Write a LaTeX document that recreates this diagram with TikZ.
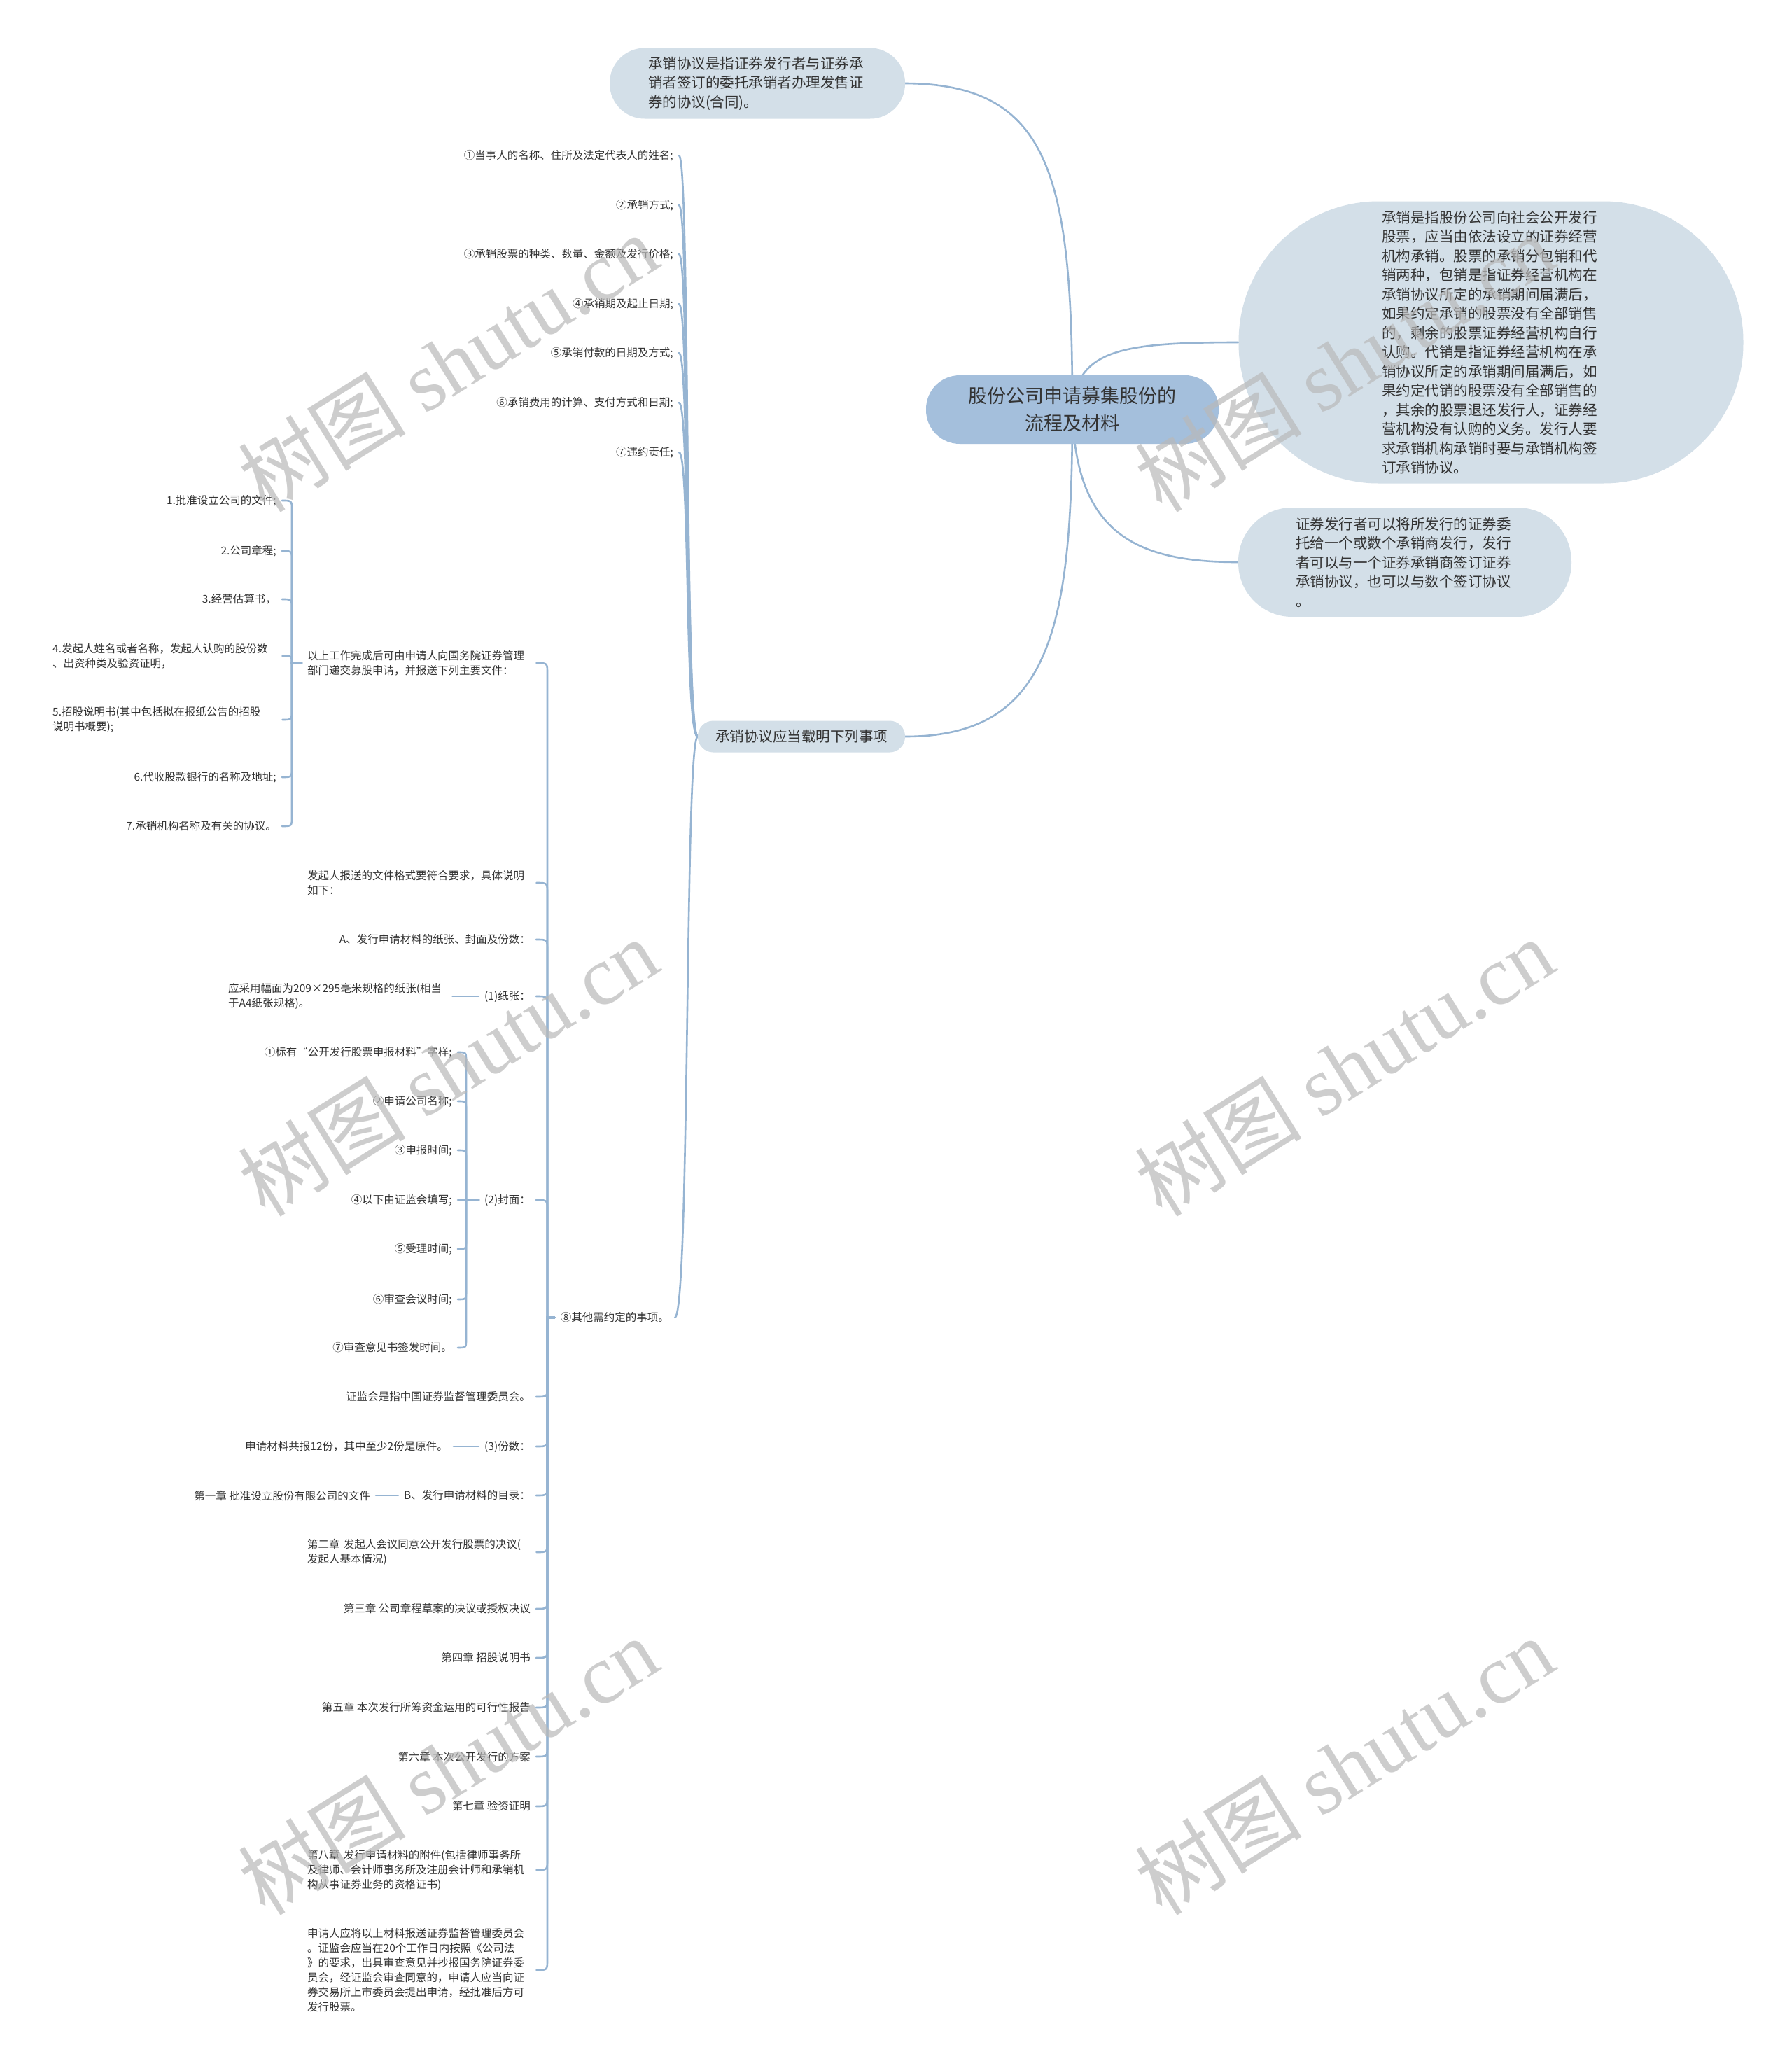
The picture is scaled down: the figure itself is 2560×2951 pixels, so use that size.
\documentclass[tikz,border=0pt]{standalone}
\usepackage{fontspec}
\setmainfont{Noto Sans CJK SC}
\newfontfamily\wmlatin{Liberation Serif}
\usetikzlibrary{backgrounds}
\definecolor{linec}{RGB}{150,180,210}
\definecolor{bubblec}{RGB}{211,223,232}
\definecolor{rootc}{RGB}{164,191,220}
\definecolor{txtc}{RGB}{51,51,51}
\definecolor{wmc}{RGB}{185,185,185}
\tikzset{
  conn/.style={draw=linec, line width=2.6pt, line cap=round},
  leaf/.style={font=\fontsize{15.5pt}{21pt}\selectfont, text=txtc, inner xsep=8pt, inner ysep=1pt},
  leafR/.style={leaf, anchor=east},
  leafL/.style={leaf, anchor=west, align=left, text width=#1},
  bubble/.style={fill=bubblec, text=txtc, font=\fontsize{20.5pt}{27.5pt}\selectfont},
  rootnode/.style={fill=rootc, text=txtc, font=\fontsize{27pt}{39pt}\selectfont, align=center},
  wm/.style={text=wmc, opacity=0.7, rotate=32, font=\fontsize{120pt}{125pt}\selectfont}
}
\begin{document}
\begin{tikzpicture}[x=1pt,y=-1pt]
\useasboundingbox (0,0) rectangle (2560,2951);

% root and first level
\node[rootnode, minimum width=418pt, minimum height=98pt, rounded corners=48pt] (root) at (1532,585) {股份公司申请募集股份的\\流程及材料};
\node[bubble, minimum width=422pt, minimum height=101pt, rounded corners=50pt, text width=312pt, align=left] (topb) at (1082,119)
  {承销协议是指证券发行者与证券承\\销者签订的委托承销者办理发售证\\券的协议(合同)。};
\node[bubble, minimum width=721pt, minimum height=403pt, rounded corners=200pt, text width=312pt, align=left] (bigb) at (2130,489)
  {承销是指股份公司向社会公开发行\\股票，应当由依法设立的证券经营\\机构承销。股票的承销分包销和代\\销两种，包销是指证券经营机构在\\承销协议所定的承销期间届满后，\\如果约定承销的股票没有全部销售\\的，剩余的股票证券经营机构自行\\认购。代销是指证券经营机构在承\\销协议所定的承销期间届满后，如\\果约定代销的股票没有全部销售的\\，其余的股票退还发行人，证券经\\营机构没有认购的义务。发行人要\\求承销机构承销时要与承销机构签\\订承销协议。};
\node[bubble, minimum width=476pt, minimum height=156pt, rounded corners=77pt, text width=312pt, align=left] (brb) at (2007,803)
  {证券发行者可以将所发行的证券委\\托给一个或数个承销商发行，发行\\者可以与一个证券承销商签订证券\\承销协议，也可以与数个签订协议\\。};
\node[bubble, minimum width=296pt, minimum height=45pt, rounded corners=22pt] (n2) at (1145,1052) {承销协议应当载明下列事项};

% items of n2
\node[leafR] (i1) at (970,222) {①当事人的名称、住所及法定代表人的姓名;};
\node[leafR] (i2) at (970,293) {②承销方式;};
\node[leafR] (i3) at (970,363) {③承销股票的种类、数量、金额及发行价格;};
\node[leafR] (i4) at (970,434) {④承销期及起止日期;};
\node[leafR] (i5) at (970,504) {⑤承销付款的日期及方式;};
\node[leafR] (i6) at (970,575) {⑥承销费用的计算、支付方式和日期;};
\node[leafR] (i7) at (970,646) {⑦违约责任;};
\node[leafR] (eight) at (964,1882) {⑧其他需约定的事项。};

% children of eight
\node[leafL=319pt] (docs) at (431,947) {以上工作完成后可由申请人向国务院证券管理\\部门递交募股申请，并报送下列主要文件：};
\node[leafL=319pt] (fmt) at (431,1261) {发起人报送的文件格式要符合要求，具体说明\\如下：};
\node[leafR] (pa) at (766,1342) {A、发行申请材料的纸张、封面及份数：};
\node[leafR] (paper) at (766,1423) {(1)纸张：};
\node[leafR] (cover) at (766,1714) {(2)封面：};
\node[leafR] (csrc) at (766,1995) {证监会是指中国证券监督管理委员会。};
\node[leafR] (copies) at (766,2066) {(3)份数：};
\node[leafR] (toc) at (766,2136) {B、发行申请材料的目录：};
\node[leafL=319pt] (ch2) at (431,2217) {第二章 发起人会议同意公开发行股票的决议(\\发起人基本情况)};
\node[leafR] (ch3) at (766,2298) {第三章 公司章程草案的决议或授权决议};
\node[leafR] (ch4) at (766,2368) {第四章 招股说明书};
\node[leafR] (ch5) at (766,2439) {第五章 本次发行所筹资金运用的可行性报告};
\node[leafR] (ch6) at (766,2509) {第六章 本次公开发行的方案};
\node[leafR] (ch7) at (766,2580) {第七章 验资证明};
\node[leafL=319pt] (ch8) at (431,2671) {第八章 发行申请材料的附件(包括律师事务所\\及律师、会计师事务所及注册会计师和承销机\\构从事证券业务的资格证书)};
\node[leafL=319pt] (final) at (431,2814) {申请人应将以上材料报送证券监督管理委员会\\。证监会应当在20个工作日内按照《公司法\\》的要求，出具审查意见并抄报国务院证券委\\员会，经证监会审查同意的，申请人应当向证\\券交易所上市委员会提出申请，经批准后方可\\发行股票。};

% children of docs
\node[leafR] (d1) at (403,715) {1.批准设立公司的文件;};
\node[leafR] (d2) at (403,787) {2.公司章程;};
\node[leafR] (d3) at (403,856) {3.经营估算书，};
\node[leafL=320pt] (d4) at (67,937) {4.发起人姓名或者名称，发起人认购的股份数\\、出资种类及验资证明，};
\node[leafL=320pt] (d5) at (67,1028) {5.招股说明书(其中包括拟在报纸公告的招股\\说明书概要);};
\node[leafR] (d6) at (403,1110) {6.代收股款银行的名称及地址;};
\node[leafR] (d7) at (403,1180) {7.承销机构名称及有关的协议。};

% child of paper
\node[leafL=312pt] (paperc) at (318,1423) {应采用幅面为209×295毫米规格的纸张(相当\\于A4纸张规格)。};

% children of cover
\node[leafR] (c1) at (654,1503) {①标有“公开发行股票申报材料”字样;};
\node[leafR] (c2) at (654,1573) {②申请公司名称;};
\node[leafR] (c3) at (654,1643) {③申报时间;};
\node[leafR] (c4) at (654,1714) {④以下由证监会填写;};
\node[leafR] (c5) at (654,1784) {⑤受理时间;};
\node[leafR] (c6) at (654,1856) {⑥审查会议时间;};
\node[leafR] (c7) at (654,1925) {⑦审查意见书签发时间。};

% children of copies / toc
\node[leafR] (copiesc) at (648,2066) {申请材料共报12份，其中至少2份是原件。};
\node[leafR] (tocc) at (537,2136) {第一章 批准设立股份有限公司的文件};

\begin{pgfonlayer}{background}
\fill[white] (0,0) rectangle (2560,2951);
% root connectors
\draw[conn] (root.center) .. controls (1532,250) and (1500,120) .. (topb.east);
\draw[conn] (root.center) .. controls (1532,900) and (1500,1052) .. (n2.east);
\draw[conn] (root.center) .. controls (1538,500) and (1600,489) .. (bigb.west);
\draw[conn] (root.center) .. controls (1536,760) and (1620,803) .. (brb.west);
% n2 connectors
\draw[conn] (n2.west) .. controls (978,1052) and (986,222) .. (i1.east);
\draw[conn] (n2.west) .. controls (978,1052) and (986,293) .. (i2.east);
\draw[conn] (n2.west) .. controls (978,1052) and (986,363) .. (i3.east);
\draw[conn] (n2.west) .. controls (978,1052) and (986,434) .. (i4.east);
\draw[conn] (n2.west) .. controls (978,1052) and (986,504) .. (i5.east);
\draw[conn] (n2.west) .. controls (978,1052) and (986,575) .. (i6.east);
\draw[conn] (n2.west) .. controls (978,1052) and (986,646) .. (i7.east);
\draw[conn] (n2.west) .. controls (978,1052) and (986,1882) .. (eight.east);
% eight connectors
\draw[conn] (eight.west) -- (782,1882) -- (782,962) .. controls (782,947) .. (docs.east);
\draw[conn] (eight.west) -- (782,1882) -- (782,1276) .. controls (782,1261) .. (fmt.east);
\draw[conn] (eight.west) -- (782,1882) -- (782,1357) .. controls (782,1342) .. (pa.east);
\draw[conn] (eight.west) -- (782,1882) -- (782,1438) .. controls (782,1423) .. (paper.east);
\draw[conn] (eight.west) -- (782,1882) -- (782,1729) .. controls (782,1714) .. (cover.east);
\draw[conn] (eight.west) -- (782,1882) -- (782,1980) .. controls (782,1995) .. (csrc.east);
\draw[conn] (eight.west) -- (782,1882) -- (782,2051) .. controls (782,2066) .. (copies.east);
\draw[conn] (eight.west) -- (782,1882) -- (782,2121) .. controls (782,2136) .. (toc.east);
\draw[conn] (eight.west) -- (782,1882) -- (782,2202) .. controls (782,2217) .. (ch2.east);
\draw[conn] (eight.west) -- (782,1882) -- (782,2283) .. controls (782,2298) .. (ch3.east);
\draw[conn] (eight.west) -- (782,1882) -- (782,2353) .. controls (782,2368) .. (ch4.east);
\draw[conn] (eight.west) -- (782,1882) -- (782,2424) .. controls (782,2439) .. (ch5.east);
\draw[conn] (eight.west) -- (782,1882) -- (782,2494) .. controls (782,2509) .. (ch6.east);
\draw[conn] (eight.west) -- (782,1882) -- (782,2565) .. controls (782,2580) .. (ch7.east);
\draw[conn] (eight.west) -- (782,1882) -- (782,2656) .. controls (782,2671) .. (ch8.east);
\draw[conn] (eight.west) -- (782,1882) -- (782,2799) .. controls (782,2814) .. (final.east);
% docs connectors
\draw[conn] (docs.west) -- (417,947) -- (417,729) .. controls (417,715) .. (d1.east);
\draw[conn] (docs.west) -- (417,947) -- (417,801) .. controls (417,787) .. (d2.east);
\draw[conn] (docs.west) -- (417,947) -- (417,870) .. controls (417,856) .. (d3.east);
\draw[conn] (docs.west) -- (417,947) .. controls (417,937) .. (d4.east);
\draw[conn] (docs.west) -- (417,947) -- (417,1014) .. controls (417,1028) .. (d5.east);
\draw[conn] (docs.west) -- (417,947) -- (417,1096) .. controls (417,1110) .. (d6.east);
\draw[conn] (docs.west) -- (417,947) -- (417,1166) .. controls (417,1180) .. (d7.east);
% paper
\draw[conn] (paper.west) -- (paperc.east);
% cover connectors
\draw[conn] (cover.west) -- (666,1714) -- (666,1515) .. controls (666,1503) .. (c1.east);
\draw[conn] (cover.west) -- (666,1714) -- (666,1585) .. controls (666,1573) .. (c2.east);
\draw[conn] (cover.west) -- (666,1714) -- (666,1655) .. controls (666,1643) .. (c3.east);
\draw[conn] (cover.west) -- (c4.east);
\draw[conn] (cover.west) -- (666,1714) -- (666,1772) .. controls (666,1784) .. (c5.east);
\draw[conn] (cover.west) -- (666,1714) -- (666,1844) .. controls (666,1856) .. (c6.east);
\draw[conn] (cover.west) -- (666,1714) -- (666,1913) .. controls (666,1925) .. (c7.east);
% copies / toc
\draw[conn] (copies.west) -- (copiesc.east);
\draw[conn] (toc.west) -- (tocc.east);
\end{pgfonlayer}

% watermarks
\node[wm] (wm1) at (640,518) {树图 {\wmlatin shutu.cn}};
\node[wm] (wm2) at (1920,518) {树图 {\wmlatin shutu.cn}};
\node[wm] (wm3) at (640,1524) {树图 {\wmlatin shutu.cn}};
\node[wm] (wm4) at (1920,1524) {树图 {\wmlatin shutu.cn}};
\node[wm] (wm5) at (640,2522) {树图 {\wmlatin shutu.cn}};
\node[wm] (wm6) at (1920,2522) {树图 {\wmlatin shutu.cn}};
\end{tikzpicture}
\end{document}
